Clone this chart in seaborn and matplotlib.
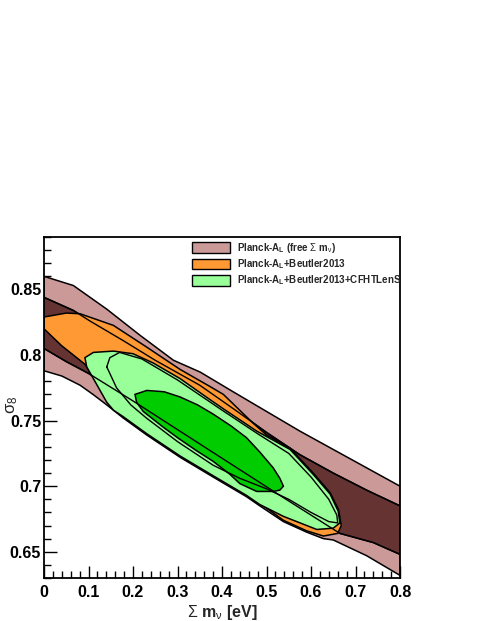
import numpy as np
import pandas as pd
import seaborn as sns
import matplotlib
matplotlib.use('Agg')
import matplotlib.pyplot as plt
from matplotlib.patches import Patch
from matplotlib.ticker import MultipleLocator, FuncFormatter

# Contour outlines (sum m_nu [eV], sigma_8)
# Planck-A_L, 95% region
pink95_x = [0, 0.066, 0.141, 0.216, 0.291, 0.351, 0.425, 0.500, 0.575, 0.650, 0.725, 0.800,
            0.800, 0.725, 0.650, 0.628, 0.590, 0.538, 0.485, 0.455, 0.380, 0.306, 0.231,
            0.178, 0.141, 0.110, 0.081, 0.040, 0]
pink95_y = [0.860, 0.853, 0.835, 0.815, 0.796, 0.787, 0.772, 0.757, 0.742, 0.728, 0.714, 0.700,
            0.632, 0.647, 0.659, 0.660, 0.665, 0.673, 0.685, 0.692, 0.707, 0.722, 0.739,
            0.752, 0.762, 0.770, 0.777, 0.784, 0.788]

# Planck-A_L, 68% region
brown68_x = [0, 0.066, 0.103, 0.178, 0.250, 0.350, 0.430, 0.500, 0.575, 0.650, 0.725, 0.800,
             0.800, 0.740, 0.665, 0.530, 0.351, 0.200, 0.100, 0.050, 0]
brown68_y = [0.844, 0.834, 0.826, 0.811, 0.796, 0.777, 0.758, 0.741, 0.724, 0.710, 0.697, 0.685,
             0.648, 0.657, 0.664, 0.693, 0.732, 0.765, 0.786, 0.795, 0.805]

# Planck-A_L + Beutler2013, 95% region
orange95_x = [0, 0.050, 0.081, 0.156, 0.231, 0.306, 0.373, 0.403, 0.470, 0.500, 0.553, 0.605,
              0.643, 0.662, 0.668, 0.660, 0.628, 0.590, 0.538, 0.485, 0.455, 0.380, 0.306,
              0.231, 0.156, 0.120, 0.092, 0.040, 0]
orange95_y = [0.829, 0.832, 0.8315, 0.8226, 0.806, 0.789, 0.776, 0.770, 0.748, 0.739, 0.729, 0.710,
              0.695, 0.682, 0.670, 0.664, 0.662, 0.666, 0.674, 0.687, 0.695, 0.710, 0.725,
              0.742, 0.760, 0.778, 0.793, 0.807, 0.820]

# Planck-A_L + Beutler2013, 68% (outline only)
orange68_x = [0.141, 0.148, 0.170, 0.220, 0.300, 0.400, 0.480, 0.550, 0.600, 0.640, 0.658, 0.660,
              0.640, 0.600, 0.550, 0.500, 0.440, 0.380, 0.300, 0.230, 0.195, 0.163]
orange68_y = [0.791, 0.798, 0.802, 0.797, 0.781, 0.758, 0.740, 0.725, 0.707, 0.690, 0.678, 0.672,
              0.673, 0.680, 0.690, 0.698, 0.706, 0.716, 0.734, 0.752, 0.762, 0.775]

# Planck-A_L + Beutler2013 + CFHTLenS, 95% region
green95_x = [0.092, 0.111, 0.156, 0.200, 0.245, 0.306, 0.373, 0.403, 0.478, 0.553, 0.605, 0.643,
             0.661, 0.665, 0.650, 0.613, 0.583, 0.538, 0.485, 0.455, 0.380, 0.306, 0.231,
             0.178, 0.156, 0.141, 0.126, 0.111, 0.096]
green95_y = [0.798, 0.802, 0.803, 0.801, 0.794, 0.782, 0.766, 0.759, 0.742, 0.728, 0.709, 0.694,
             0.681, 0.672, 0.668, 0.667, 0.671, 0.677, 0.686, 0.693, 0.708, 0.723, 0.740,
             0.753, 0.758, 0.764, 0.773, 0.782, 0.791]

# Planck-A_L + Beutler2013 + CFHTLenS, 68% region
green68_x = [0.2045, 0.231, 0.270, 0.306, 0.345, 0.380, 0.420, 0.455, 0.485, 0.515, 0.530, 0.538,
             0.530, 0.515, 0.478, 0.440, 0.418, 0.380, 0.343, 0.300, 0.268, 0.223, 0.208]
green68_y = [0.770, 0.773, 0.772, 0.768, 0.762, 0.755, 0.746, 0.737, 0.726, 0.714, 0.706, 0.700,
             0.697, 0.696, 0.696, 0.702, 0.709, 0.719, 0.727, 0.737, 0.745, 0.757, 0.764]

labels = [r'Planck-A$_\mathregular{L}$ (free $\Sigma$ m$_\nu$)',
          r'Planck-A$_\mathregular{L}$+Beutler2013',
          r'Planck-A$_\mathregular{L}$+Beutler2013+CFHTLenS']
colors = {'pink': '#cc9999', 'brown': '#663333', 'orange': '#ff9933',
          'lgreen': '#99ff99', 'dgreen': '#00cc00'}

sns.set_theme(style='ticks')
plt.rcParams['font.family'] = ['Liberation Sans', 'DejaVu Sans']
plt.rcParams['mathtext.fontset'] = 'custom'
plt.rcParams['mathtext.rm'] = 'Liberation Sans'
plt.rcParams['mathtext.it'] = 'Liberation Sans'
plt.rcParams['mathtext.bf'] = 'Liberation Sans:bold'

fig = plt.figure(figsize=(4.8, 6.21), dpi=100)
ax = fig.add_axes([44 / 480, 1 - 578 / 621, 356 / 480, 341 / 621])

# filled regions, back to front
regions = [(pink95_x, pink95_y, 'pink'), (brown68_x, brown68_y, 'brown'),
           (orange95_x, orange95_y, 'orange'), (green95_x, green95_y, 'lgreen'),
           (green68_x, green68_y, 'dgreen')]
for xs, ys, c in regions:
    ax.fill(xs, ys, facecolor=colors[c], edgecolor='black', lw=1.1, zorder=2)

# contour lines that show through the fills
def closed(xs, ys, name):
    return pd.DataFrame({'x': list(xs) + [xs[0]], 'y': list(ys) + [ys[0]], 'c': name})

lines = pd.concat([closed(brown68_x, brown68_y, 'brown68'),
                   closed(orange68_x, orange68_y, 'orange68')])
for name, d in lines.groupby('c'):
    sns.lineplot(data=d, x='x', y='y', sort=False, estimator=None, color='black',
                 lw=1.0, ax=ax, zorder=3)

ax.set_xlim(0, 0.8)
ax.set_ylim(0.63, 0.89)
ax.xaxis.set_major_locator(MultipleLocator(0.1))
ax.xaxis.set_minor_locator(MultipleLocator(0.02))
ax.yaxis.set_major_locator(MultipleLocator(0.05))
ax.yaxis.set_minor_locator(MultipleLocator(0.01))
fmt = FuncFormatter(lambda v, p: f'{v:g}')
ax.xaxis.set_major_formatter(fmt)
ax.yaxis.set_major_formatter(fmt)
ax.tick_params(which='both', direction='in', top=False, right=False, width=1, colors='black')
ax.tick_params(which='major', length=9, labelsize=11.5)
ax.tick_params(which='minor', length=5)
ax.tick_params(axis='x', which='major', pad=5)
ax.tick_params(axis='y', which='major', pad=2)
for t in ax.get_xticklabels() + ax.get_yticklabels():
    t.set_fontweight('bold')
for s in ax.spines.values():
    s.set_linewidth(1.3)
    s.set_color('black')
    s.set_visible(True)

ax.set_xlabel(r'$\Sigma$ m$_\nu$ [eV]', fontsize=11.5, fontweight='bold')
ax.set_ylabel(r'$\sigma_8$', fontsize=12)
ax.xaxis.set_label_coords(0.5, -0.072)
ax.yaxis.set_label_coords(-0.068, 0.507)

handles = [Patch(facecolor=colors[c], edgecolor='black', lw=1.0)
           for c in ['pink', 'orange', 'lgreen']]
ax.legend(handles, labels, loc='upper left', bbox_to_anchor=(0.404, 1.0),
          frameon=False, borderaxespad=0, borderpad=0.4, handlelength=3.9,
          handleheight=1.3, labelspacing=0.25, handletextpad=0.8,
          prop={'weight': 'bold', 'size': 7})

fig.savefig('out.png', dpi=100)
